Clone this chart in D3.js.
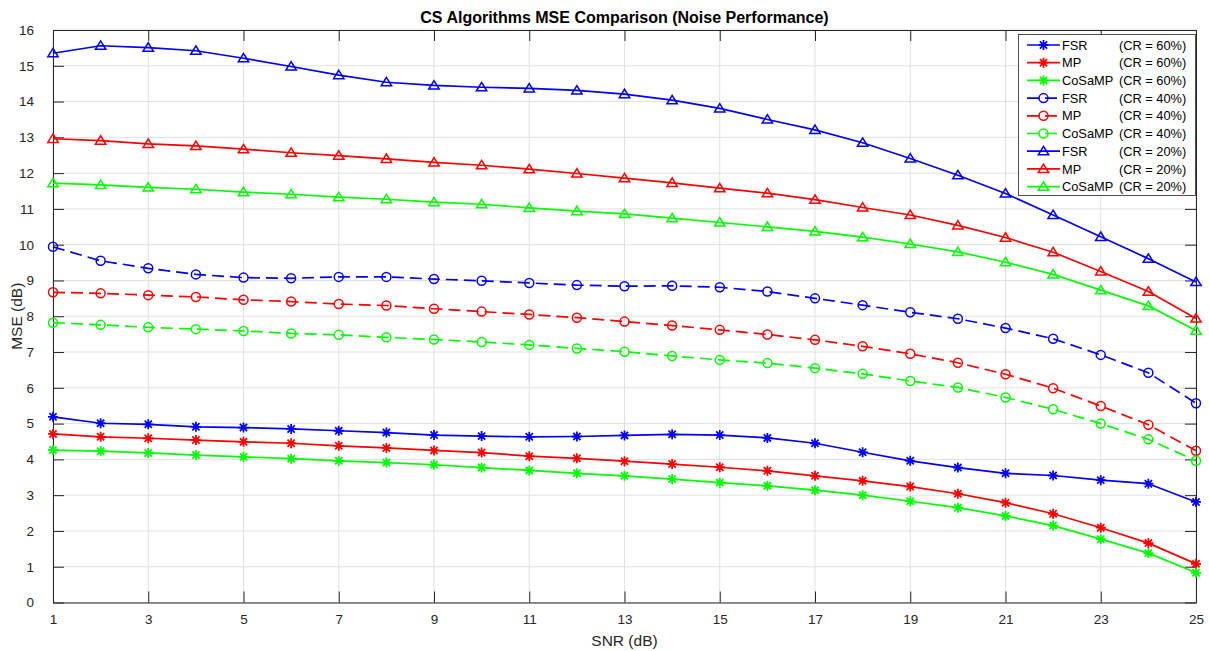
<!DOCTYPE html>
<html>
<head>
<meta charset="utf-8">
<script src="https://cdn.jsdelivr.net/npm/d3@7"></script>
<style>
  html, body { margin: 0; padding: 0; background: #fff; }
  svg { display: block; font-family: "Liberation Sans", Arial, Helvetica, sans-serif; }
</style>
</head>
<body>
<svg id="chart" width="1209" height="651"></svg>
<script>
// ---------------- DATA ----------------
const snr = d3.range(1, 26);
const xTicks = [1,3,5,7,9,11,13,15,17,19,21,23,25];
const yTicks = d3.range(0, 17);

const fsr60    = [5.19,5.01,4.98,4.91,4.89,4.85,4.80,4.75,4.68,4.65,4.63,4.64,4.67,4.70,4.68,4.60,4.45,4.20,3.96,3.77,3.61,3.55,3.42,3.32,2.81];
const mp60     = [4.71,4.63,4.59,4.54,4.49,4.45,4.38,4.32,4.25,4.19,4.09,4.03,3.95,3.87,3.78,3.68,3.54,3.40,3.24,3.04,2.79,2.48,2.09,1.66,1.08];
const cosamp60 = [4.26,4.23,4.18,4.12,4.07,4.02,3.96,3.91,3.85,3.77,3.69,3.61,3.54,3.45,3.35,3.26,3.14,3.00,2.83,2.65,2.42,2.15,1.77,1.38,0.83];
const fsr40    = [9.94,9.55,9.34,9.17,9.08,9.06,9.10,9.10,9.04,8.99,8.93,8.87,8.84,8.85,8.81,8.69,8.50,8.31,8.11,7.93,7.67,7.37,6.92,6.42,5.57];
const mp40     = [8.67,8.64,8.59,8.54,8.46,8.41,8.34,8.30,8.21,8.13,8.05,7.96,7.85,7.74,7.62,7.49,7.34,7.16,6.95,6.70,6.38,5.99,5.49,4.97,4.24];
const cosamp40 = [7.82,7.76,7.69,7.64,7.59,7.52,7.48,7.41,7.35,7.28,7.20,7.10,7.01,6.89,6.78,6.69,6.55,6.39,6.19,6.01,5.73,5.40,5.00,4.56,3.96];
const fsr20    = [15.35,15.56,15.51,15.42,15.21,14.98,14.74,14.54,14.45,14.40,14.37,14.31,14.21,14.04,13.81,13.50,13.21,12.85,12.41,11.94,11.43,10.83,10.22,9.61,8.96];
const mp20     = [12.96,12.91,12.82,12.76,12.67,12.57,12.49,12.40,12.30,12.22,12.11,11.99,11.86,11.73,11.58,11.44,11.26,11.04,10.83,10.54,10.20,9.79,9.25,8.69,7.94];
const cosamp20 = [11.72,11.67,11.60,11.55,11.47,11.41,11.33,11.27,11.19,11.13,11.03,10.94,10.86,10.74,10.62,10.50,10.37,10.21,10.02,9.80,9.51,9.17,8.73,8.29,7.60];

const algNames = ["FSR", "MP", "CoSaMP"];
const crLabels = ["(CR = 60%)", "(CR = 40%)", "(CR = 20%)"];
const title = "CS Algorithms MSE Comparison (Noise Performance)";
const xLabel = "SNR (dB)";
const yLabel = "MSE (dB)";

// ---------------- STYLE ----------------
const colors = ["#0000ff", "#ff0000", "#00ff00"];
const markers = ["star", "circle", "triangle"];
const dashes = [null, "12,6", null];

const series = [
  {alg:0, cr:0, values:fsr60}, {alg:1, cr:0, values:mp60}, {alg:2, cr:0, values:cosamp60},
  {alg:0, cr:1, values:fsr40}, {alg:1, cr:1, values:mp40}, {alg:2, cr:1, values:cosamp40},
  {alg:0, cr:2, values:fsr20}, {alg:1, cr:2, values:mp20}, {alg:2, cr:2, values:cosamp20}
];

const L = 53, R = 1196, T = 30, B = 602.5;
const svg = d3.select("#chart");
const x = d3.scaleLinear().domain([1, 25]).range([L, R]);
const y = d3.scaleLinear().domain([0, 16]).range([B, T]);
const axisColor = "#262626";
const tickFont = 13.5;

// grid
const grid = svg.append("g");
grid.selectAll("line.v").data(xTicks).join("line")
  .attr("x1", d => x(d)).attr("x2", d => x(d)).attr("y1", T).attr("y2", B)
  .attr("stroke", "#e1e1e1").attr("stroke-width", 1);
grid.selectAll("line.h").data(yTicks).join("line")
  .attr("x1", L).attr("x2", R).attr("y1", d => y(d)).attr("y2", d => y(d))
  .attr("stroke", "#e1e1e1").attr("stroke-width", 1);

// axes
const tl = 11;
const gB = svg.append("g").attr("transform", `translate(0,${B})`)
  .call(d3.axisBottom(x).tickValues(xTicks).tickSizeInner(-tl).tickSizeOuter(0).tickPadding(12));
const gT = svg.append("g").attr("transform", `translate(0,${T})`)
  .call(d3.axisTop(x).tickValues(xTicks).tickSizeInner(-tl).tickSizeOuter(0).tickFormat(""));
const gLft = svg.append("g").attr("transform", `translate(${L},0)`)
  .call(d3.axisLeft(y).tickValues(yTicks).tickSizeInner(-tl).tickSizeOuter(0).tickPadding(19));
const gRgt = svg.append("g").attr("transform", `translate(${R},0)`)
  .call(d3.axisRight(y).tickValues(yTicks).tickSizeInner(-tl).tickSizeOuter(0).tickFormat(""));
[gB, gT, gLft, gRgt].forEach(g => {
  g.selectAll("path.domain").attr("stroke", axisColor).attr("stroke-width", 1);
  g.selectAll(".tick line").attr("stroke", axisColor).attr("stroke-width", 1);
  g.selectAll(".tick text").attr("fill", axisColor).attr("font-size", tickFont)
    .attr("font-family", "Liberation Sans, Arial, sans-serif");
});

// marker symbol
function markerPath(type) {
  if (type === "star") return "M-5,0H5M0,-5V5M-3.6,-3.6L3.6,3.6M-3.6,3.6L3.6,-3.6";
  if (type === "triangle") return "M0,-4.8L5.2,3.6L-5.2,3.6Z";
  return d3.symbol(d3.symbolCircle, Math.PI * 4.5 * 4.5)();
}

// lines
const line = d3.line().x((d, i) => x(snr[i])).y(d => y(d));
series.forEach(s => {
  const g = svg.append("g");
  g.append("path").attr("d", line(s.values)).attr("fill", "none")
    .attr("stroke", colors[s.alg]).attr("stroke-width", 1.7)
    .attr("stroke-dasharray", dashes[s.cr]).attr("stroke-linejoin", "round");
  g.selectAll("path.m").data(s.values).join("path")
    .attr("transform", (d, i) => `translate(${x(snr[i])},${y(d)})`)
    .attr("d", markerPath(markers[s.cr])).attr("fill", "none")
    .attr("stroke", colors[s.alg]).attr("stroke-width", s.cr === 0 ? 1.8 : 1.5);
});

// legend
const lg = svg.append("g");
lg.append("rect").attr("x", 1018.5).attr("y", 34.5).attr("width", 177).attr("height", 161)
  .attr("fill", "#fff").attr("stroke", axisColor).attr("stroke-width", 0.8);
series.forEach((s, i) => {
  const cy = 45 + i * 17.7;
  lg.append("line").attr("x1", 1027).attr("x2", 1060).attr("y1", cy).attr("y2", cy)
    .attr("stroke", colors[s.alg]).attr("stroke-width", 1.7).attr("stroke-dasharray", dashes[s.cr]);
  lg.append("path").attr("transform", `translate(1043.5,${cy})`).attr("d", markerPath(markers[s.cr]))
    .attr("fill", "none").attr("stroke", colors[s.alg]).attr("stroke-width", s.cr === 0 ? 1.8 : 1.5);
  const t = lg.append("text").attr("y", cy + 4.6).attr("font-size", 12.8).attr("fill", "#000");
  t.append("tspan").attr("x", 1062).text(algNames[s.alg]);
  t.append("tspan").attr("x", 1119).text(crLabels[s.cr]);
});

// title & labels
svg.append("text").attr("x", (L + R) / 2).attr("y", 22.5).attr("text-anchor", "middle")
  .attr("font-size", 16).attr("font-weight", "bold").attr("fill", "#000").text(title);
svg.append("text").attr("x", (L + R) / 2).attr("y", 646).attr("text-anchor", "middle")
  .attr("font-size", 15.5).attr("fill", axisColor).text(xLabel);
svg.append("text").attr("transform", `translate(22,${(T + B) / 2}) rotate(-90)`).attr("text-anchor", "middle")
  .attr("font-size", 15.5).attr("fill", axisColor).text(yLabel);
</script>
</body>
</html>
